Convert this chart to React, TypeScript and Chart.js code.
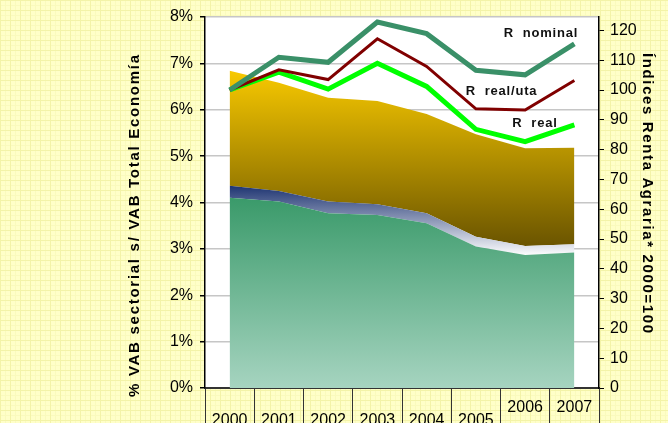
import { useEffect, useRef } from 'react';
import { Chart, registerables } from 'chart.js';

Chart.register(...registerables);

// ---- Data ----
const YEARS = ['2000', '2001', '2002', '2003', '2004', '2005', '2006', '2007'];
// Stacked areas (% of total economy GVA)
const AREA_BASE = [4.10, 4.02, 3.77, 3.73, 3.55, 3.05, 2.87, 2.92];
const AREA_BANDA = [0.26, 0.23, 0.25, 0.23, 0.22, 0.21, 0.19, 0.18];
const AREA_SUPERIOR = [2.48, 2.33, 2.24, 2.23, 2.14, 2.21, 2.11, 2.08];
// Income indices (2000 = 100), right axis
const R_NOMINAL = [100, 111.0, 109.3, 122.8, 118.9, 106.6, 105.1, 115.5];
const R_REAL_UTA = [100, 106.8, 103.5, 117.2, 107.9, 93.7, 93.3, 103.2];
const R_REAL = [100, 106.0, 100.3, 109.0, 101.2, 86.8, 82.7, 88.3];

const LEFT_TITLE = '% VAB sectorial s/ VAB Total Economía';
const RIGHT_TITLE = 'Índices Renta Agraria* 2000=100';
const LINE_LABELS = ['R  nominal', 'R  real/uta', 'R  real'];
// label anchors: [category position, right-axis value at baseline]
const LABEL_ANCHORS: [number, number][] = [[6.32, 117.7], [5.52, 98.2], [6.2, 87.5]];

const FONT = '"Liberation Sans", Arial, sans-serif';

function drawFitted(ctx: CanvasRenderingContext2D, text: string, font: string, target: number, x: number, y: number, angle: number) {
  ctx.save();
  ctx.translate(x, y);
  ctx.rotate(angle);
  ctx.font = font;
  (ctx as any).letterSpacing = '0px';
  const w = ctx.measureText(text).width;
  const ls = (target - w) / (text.length - 1);
  (ctx as any).letterSpacing = ls + 'px';
  ctx.textAlign = 'center';
  ctx.textBaseline = 'alphabetic';
  ctx.fillStyle = '#000';
  ctx.fillText(text, ls / 2, 0);
  ctx.restore();
}

const decorPlugin = {
  id: 'decor',
  beforeDraw(chart: any) {
    const { ctx, chartArea } = chart;
    ctx.save();
    ctx.fillStyle = '#ffffff';
    ctx.fillRect(chartArea.left, chartArea.top, chartArea.right - chartArea.left, chartArea.bottom - chartArea.top);
    ctx.restore();
  },
  afterDraw(chart: any) {
    const { ctx, chartArea, scales } = chart;
    drawFitted(ctx, LEFT_TITLE, `bold 15px ${FONT}`, 342, chartArea.left - 66, 226, -Math.PI / 2);
    drawFitted(ctx, RIGHT_TITLE, `bold 15px ${FONT}`, 280, chartArea.right + 44, 193, Math.PI / 2);
    ctx.save();
    ctx.font = `bold 13px ${FONT}`;
    (ctx as any).letterSpacing = '0.8px';
    ctx.fillStyle = '#111';
    ctx.textAlign = 'center';
    ctx.textBaseline = 'alphabetic';
    LINE_LABELS.forEach((t, i) => {
      const [pos, val] = LABEL_ANCHORS[i];
      ctx.fillText(t, scales.x.getPixelForValue(pos), scales.y1.getPixelForValue(val));
    });
    ctx.restore();
  },
};

function vGradient(stops: [number, string][], topVal: number, botVal: number) {
  return (context: any) => {
    const chart = context.chart;
    const { ctx, chartArea, scales } = chart;
    if (!chartArea) return 'transparent';
    const g = ctx.createLinearGradient(0, scales.y.getPixelForValue(topVal), 0, scales.y.getPixelForValue(botVal));
    stops.forEach(([o, c]) => g.addColorStop(o, c));
    return g;
  };
}

export default function App() {
  const ref = useRef<HTMLCanvasElement | null>(null);

  useEffect(() => {
    if (!ref.current) return;
    const areaCommon = { pointRadius: 0, borderWidth: 0, yAxisID: 'y', tension: 0 };
    const lineCommon = { pointRadius: 0, yAxisID: 'y1', tension: 0, fill: false, borderJoinStyle: 'miter' as const };
    const chart = new Chart(ref.current, {
      type: 'line',
      data: {
        labels: YEARS,
        datasets: [
          {
            ...areaCommon, label: 'base', data: AREA_BASE, fill: 'origin', order: 10,
            backgroundColor: vGradient([[0, '#3a9a6a'], [1, '#a6d4c0']], 4.1, 0),
          },
          {
            ...areaCommon, label: 'banda', data: AREA_BANDA, fill: '-1', order: 11,
            backgroundColor: vGradient([[0, '#182f6e'], [1, '#ffffff']], 4.4, 2.85),
          },
          {
            ...areaCommon, label: 'superior', data: AREA_SUPERIOR, fill: '-1', order: 12,
            backgroundColor: vGradient([[0, '#f8c900'], [1, '#6a5400']], 6.85, 3.05),
          },
          { ...lineCommon, label: 'R nominal', data: R_NOMINAL, borderColor: '#3a9068', borderWidth: 5, order: 0 },
          { ...lineCommon, label: 'R real/uta', data: R_REAL_UTA, borderColor: '#800000', borderWidth: 3, order: 1 },
          { ...lineCommon, label: 'R real', data: R_REAL, borderColor: '#00ff00', borderWidth: 5, order: 2 },
        ],
      },
      options: {
        responsive: false,
        animation: false,
        devicePixelRatio: 1,
        layout: { padding: { top: 17, left: 0, right: 0, bottom: 0 } },
        plugins: { legend: { display: false }, tooltip: { enabled: false }, title: { display: false } },
        scales: {
          x: {
            type: 'category',
            offset: true,
            grid: { display: true, drawOnChartArea: false, drawTicks: true, tickLength: 35, offset: true, color: '#333', tickColor: '#333', lineWidth: 1 },
            border: { display: true, color: '#333', width: 2 },
            ticks: {
              color: '#000',
              font: { family: FONT, size: 16, lineHeight: '13px' },
              padding: -22,
              maxRotation: 0,
              minRotation: 0,
              autoSkip: false,
              callback: (_v: any, i: number) => (i < 6 ? ['', YEARS[i]] : YEARS[i]),
            },
            afterFit: (s: any) => { s.height = 35; },
          },
          y: {
            type: 'linear',
            position: 'left',
            stacked: true,
            min: 0,
            max: 8,
            ticks: { stepSize: 1, color: '#000', font: { family: FONT, size: 16 }, padding: 7, callback: (v: any) => v + '%' },
            grid: { color: '#c6c6c6', lineWidth: 1.5, tickColor: '#000', tickLength: 5, drawOnChartArea: true },
            border: { color: '#000', width: 1.5 },
            afterFit: (s: any) => { s.width = 205; },
          },
          y1: {
            type: 'linear',
            position: 'right',
            min: 0,
            max: 124.5,
            ticks: { stepSize: 10, includeBounds: false, color: '#000', font: { family: FONT, size: 16 }, padding: 6 },
            grid: { drawOnChartArea: false, tickColor: '#000', tickLength: 5 },
            border: { color: '#000', width: 1.5 },
            afterBuildTicks: (s: any) => { s.ticks = s.ticks.filter((t: any) => t.value % 10 === 0); },
            afterFit: (s: any) => { s.width = 69; },
          },
        },
      },
      plugins: [decorPlugin],
    } as any);
    return () => chart.destroy();
  }, []);

  return (
    <>
      <style>{`body{margin:0}`}</style>
      <div
        style={{
          width: 668,
          height: 423,
          position: 'relative',
          backgroundColor: '#ffffc8',
          backgroundImage:
            'linear-gradient(to bottom, #f3f3a8 1px, transparent 1px), linear-gradient(to right, #f3f3a8 1px, transparent 1px), linear-gradient(to bottom, #fafabd 1px, transparent 1px), linear-gradient(to right, #fafabd 1px, transparent 1px)',
          backgroundSize: '10px 10px, 10px 10px, 5px 5px, 5px 5px',
        }}
      >
        <canvas ref={ref} width={668} height={423} style={{ display: 'block' }} />
      </div>
    </>
  );
}
